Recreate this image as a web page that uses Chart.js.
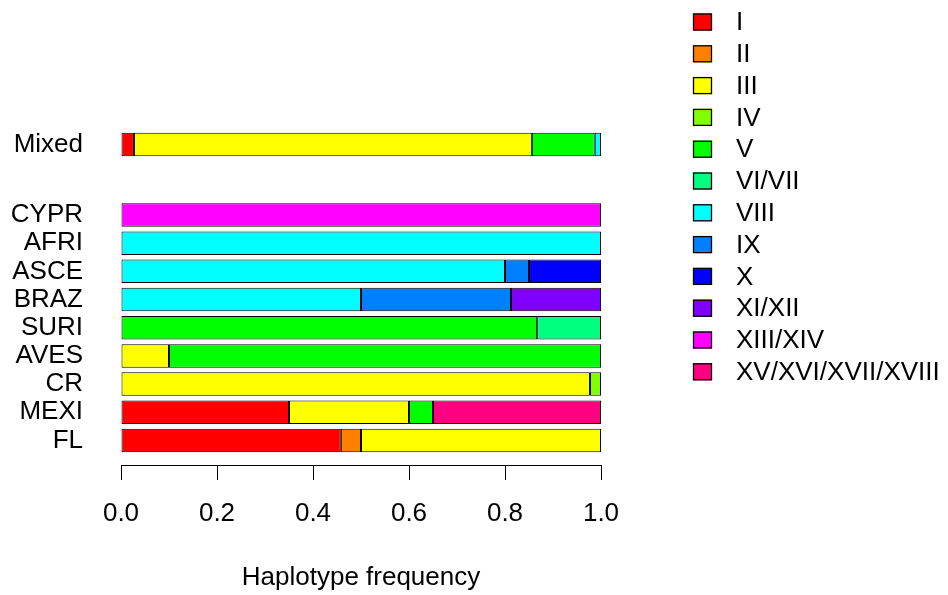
<!DOCTYPE html>
<html>
<head>
<meta charset="utf-8">
<script src="https://cdn.jsdelivr.net/npm/chart.js@4.4.1/dist/chart.umd.min.js"></script>
<style>
    body { margin: 0; background: #fff; }
    #wrap { width: 948px; height: 595px; }
</style>
</head>
<body>
<div id="wrap"><canvas id="haploChart"></canvas></div>
<script>
// populations, bottom to top (barplot order)
const populations = ['FL', 'MEXI', 'CR', 'AVES', 'SURI', 'BRAZ', 'ASCE', 'AFRI', 'CYPR', 'Mixed'];
// gap before each bar, in bar widths (like barplot's space argument)
const spaces = [0.2, 0.2, 0.2, 0.2, 0.2, 0.2, 0.2, 0.2, 0.2, 2];

const haplotypes = ['I', 'II', 'III', 'IV', 'V', 'VI/VII', 'VIII', 'IX', 'X', 'XI/XII', 'XIII/XIV', 'XV/XVI/XVII/XVIII'];
const hapColors = ['#FF0000', '#FF8000', '#FFFF00', '#80FF00', '#00FF00', '#00FF80',
                   '#00FFFF', '#0080FF', '#0000FF', '#8000FF', '#FF00FF', '#FF0080'];

//                FL     MEXI  CR     AVES  SURI   BRAZ    ASCE  AFRI CYPR Mixed
const hapI     = [0.458, 0.35, 0,     0,    0,     0,      0,    0,   0,   0.027];
const hapII    = [0.042, 0,    0,     0,    0,     0,      0,    0,   0,   0];
const hapIII   = [0.5,   0.25, 0.977, 0.1,  0,     0,      0,    0,   0,   0.829];
const hapIV    = [0,     0,    0.023, 0,    0,     0,      0,    0,   0,   0];
const hapV     = [0,     0.05, 0,     0.9,  0.867, 0,      0,    0,   0,   0.131];
const hapVI    = [0,     0,    0,     0,    0.133, 0,      0,    0,   0,   0];
const hapVIII  = [0,     0,    0,     0,    0,     0.5,    0.8,  1,   0,   0.013];
const hapIX    = [0,     0,    0,     0,    0,     0.3125, 0.05, 0,   0,   0];
const hapX     = [0,     0,    0,     0,    0,     0,      0.15, 0,   0,   0];
const hapXI    = [0,     0,    0,     0,    0,     0.1875, 0,    0,   0,   0];
const hapXIII  = [0,     0,    0,     0,    0,     0,      0,    0,   1,   0];
const hapXV    = [0,     0.35, 0,     0,    0,     0,      0,    0,   0,   0];
const hapValues = [hapI, hapII, hapIII, hapIV, hapV, hapVI, hapVIII, hapIX, hapX, hapXI, hapXIII, hapXV];

const xTicks = [0, 0.2, 0.4, 0.6, 0.8, 1.0];

// bar centres the way barplot lays them out (width 1)
const positions = [];
let edge = 0;
spaces.forEach(s => {
    edge += s;
    positions.push(edge + 0.5);
    edge += 1;
});
const yPad = 0.04 * (edge - spaces[0]);
const yMin = spaces[0] - yPad;
const yMax = edge + yPad;

const FONT = '"Liberation Sans", Arial, sans-serif';
const FONT_SIZE = 26;

const datasets = haplotypes.map((h, i) => ({
    label: h,
    data: hapValues[i].map((v, j) => ({ x: v, y: positions[j] })),
    backgroundColor: hapColors[i],
    borderColor: '#000',
    borderWidth: 1,
    borderSkipped: false
}));

const sideLegend = {
    id: 'sideLegend',
    afterDraw(chart) {
        const ctx = chart.ctx;
        ctx.save();
        ctx.font = FONT_SIZE + 'px ' + FONT;
        ctx.textBaseline = 'middle';
        ctx.textAlign = 'left';
        chart.data.datasets.forEach((ds, i) => {
            const cy = 22 + i * 31.8;
            ctx.fillStyle = ds.backgroundColor;
            ctx.fillRect(693, cy - 8.5, 19, 17);
            ctx.strokeStyle = '#000';
            ctx.lineWidth = 1.3;
            ctx.strokeRect(693.5, cy - 8, 18, 16);
            ctx.fillStyle = '#000';
            ctx.fillText(ds.label, 736, cy + 1);
        });
        ctx.restore();
    }
};

new Chart(document.getElementById('haploChart'), {
    type: 'bar',
    data: { datasets: datasets },
    plugins: [sideLegend],
    options: {
        indexAxis: 'y',
        responsive: true,
        maintainAspectRatio: false,
        animation: false,
        categoryPercentage: 1,
        barPercentage: 1 / 1.2,
        layout: { padding: { top: 120, right: 347, left: 0, bottom: 0 } },
        plugins: {
            legend: { display: false },
            tooltip: { enabled: false }
        },
        scales: {
            x: {
                stacked: true,
                min: 0,
                max: 1,
                afterBuildTicks: (axis) => {
                    axis.ticks = xTicks.map(v => ({ value: v }));
                },
                afterFit: (axis) => { axis.height = 130; },
                ticks: {
                    color: '#000',
                    font: { family: FONT, size: FONT_SIZE },
                    padding: 18,
                    maxRotation: 0,
                    callback: (v) => Number(v).toFixed(1)
                },
                grid: {
                    drawOnChartArea: false,
                    drawTicks: true,
                    tickLength: 15,
                    color: '#000',
                    lineWidth: 1
                },
                border: { display: true, color: '#000', width: 1 },
                title: {
                    display: true,
                    text: 'Haplotype frequency',
                    color: '#000',
                    font: { family: FONT, size: FONT_SIZE },
                    padding: { top: 0, bottom: 2 }
                }
            },
            y: {
                type: 'linear',
                stacked: true,
                offset: false,
                min: yMin,
                max: yMax,
                afterBuildTicks: (axis) => {
                    axis.ticks = positions.map(v => ({ value: v }));
                },
                afterFit: (axis) => { axis.width = 121; },
                ticks: {
                    color: '#000',
                    font: { family: FONT, size: FONT_SIZE },
                    padding: 38,
                    callback: (v) => {
                        const idx = positions.findIndex(p => Math.abs(p - v) < 1e-6);
                        return idx >= 0 ? populations[idx] : '';
                    }
                },
                grid: { display: false, drawTicks: false },
                border: { display: false }
            }
        }
    }
});
</script>
</body>
</html>
